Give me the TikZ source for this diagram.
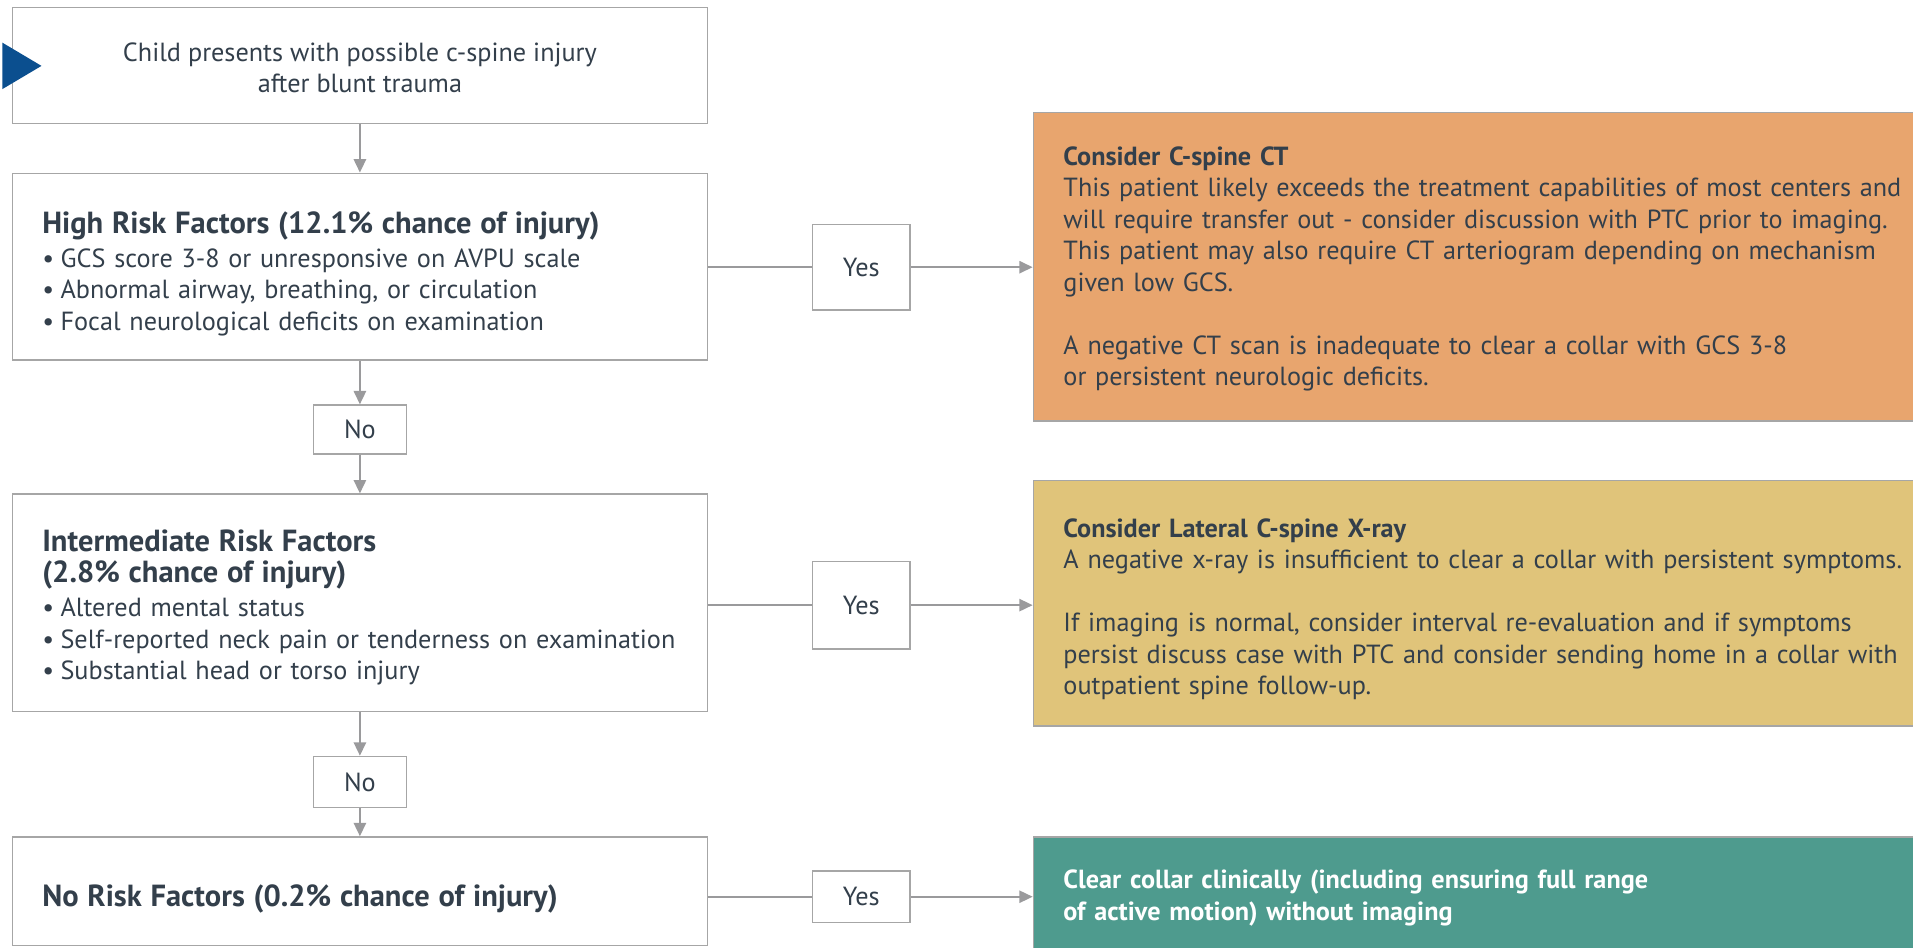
\documentclass[tikz,border=0pt]{standalone}
\usepackage{fontspec}
\setmainfont{PT Sans}
\usetikzlibrary{arrows.meta,calc}

\definecolor{ink}{HTML}{333F4B}
\definecolor{edgegray}{HTML}{A6A6A6}
\definecolor{wiregray}{HTML}{9A9A9C}
\definecolor{ctorange}{HTML}{E8A56E}
\definecolor{xrayyellow}{HTML}{E0C47A}
\definecolor{clearteal}{HTML}{4E9B8E}
\definecolor{startblue}{HTML}{0B4F8F}

\newcommand\bodyfont{\fontsize{21.5}{25.8}\selectfont}
\newcommand\headfont{\fontsize{25}{27}\selectfont\bfseries}
\newcommand\itm{\makebox[15pt][l]{\textbullet}}

\tikzset{
  box/.style={draw=edgegray, line width=1.1pt, fill=white, inner sep=0pt},
  riskbox/.style={box, minimum width=570pt},
  choice/.style={draw=edgegray, line width=1.1pt, fill=white, text=ink,
    minimum width=80pt, font=\bodyfont, inner sep=0pt},
  advice/.style={draw=edgegray, line width=1.1pt, inner sep=0pt,
    minimum width=770pt},
  words/.style={inner sep=0pt, text=ink, font=\bodyfont, anchor=west,
    text width=#1, align=left},
  words/.default=520pt,
  wire/.style={draw=wiregray, line width=1.8pt},
  flow/.style={wire, -{Triangle[length=11pt,width=10pt]}},
}

\begin{document}
\begin{tikzpicture}[x=1pt,y=-1pt]
\useasboundingbox (0,0) rectangle (1568,777);

% left column: entry and the three risk tiers
\node[box, minimum width=570pt, minimum height=95pt] (start) at (295,53.5) {};
\node[inner sep=0pt, text=ink, font=\bodyfont, align=center] (starttext)
  at ($(start.center)+(0,2)$)
  {Child presents with possible c-spine injury\\after blunt trauma};

\node[riskbox, minimum height=153pt] (high) at (295,218.5) {};
\node[words] (hightext) at ($(high.west)+(25,6)$)
  {{\headfont High Risk Factors (12.1\% chance of injury)}\\[2pt]
   \itm GCS score 3-8 or unresponsive on AVPU scale\\
   \itm Abnormal airway, breathing, or circulation\\
   \itm Focal neurological deficits on examination};

\node[riskbox, minimum height=178pt] (mid) at (295,494) {};
\node[words] (midtext) at ($(mid.west)+(25,4)$)
  {{\headfont Intermediate Risk Factors\\(2.8\% chance of injury)}\\[2pt]
   \itm Altered mental status\\
   \itm Self-reported neck pain or tenderness on examination\\
   \itm Substantial head or torso injury};

\node[riskbox, minimum height=89pt] (none) at (295,730.5) {};
\node[words] (nonetext) at ($(none.west)+(25,6)$)
  {{\headfont No Risk Factors (0.2\% chance of injury)}};

% "No" branches between the tiers
\node[choice, minimum width=76pt, minimum height=40pt] (no1) at (295,352) {No};
\node[choice, minimum width=76pt, minimum height=42pt] (no2) at (295,641) {No};

% "Yes" branches towards the recommendations
\node[choice, minimum height=70pt] (yes1) at (706,219) {Yes};
\node[choice, minimum height=72pt] (yes2) at (706,496) {Yes};
\node[choice, minimum height=42pt] (yes3) at (706,735) {Yes};

% recommendations, running off the right edge
\node[advice, fill=ctorange, minimum height=253pt] (ct) at (1232,218.5) {};
\node[words=720pt] (cttext) at ($(ct.west)+(25,2)$)
  {{\bfseries Consider C-spine CT}\\
   This patient likely exceeds the treatment capabilities of most centers and\\
   will require transfer out - consider discussion with PTC prior to imaging.\\
   This patient may also require CT arteriogram depending on mechanism\\
   given low GCS.\\[25.8pt]
   A negative CT scan is inadequate to clear a collar with GCS 3-8\\
   or persistent neurologic deficits.};

\node[advice, fill=xrayyellow, minimum height=201pt] (xray) at (1232,494.5) {};
\node[words=720pt] (xraytext) at ($(xray.west)+(25,5)$)
  {{\bfseries Consider Lateral C-spine X-ray}\\
   A negative x-ray is insufficient to clear a collar with persistent symptoms.\\[25.8pt]
   If imaging is normal, consider interval re-evaluation and if symptoms\\
   persist discuss case with PTC and consider sending home in a collar with\\
   outpatient spine follow-up.};

\node[advice, fill=clearteal, minimum height=92pt] (clear) at (1232,732) {};
\node[words=720pt, text=white] (cleartext) at ($(clear.west)+(25,4)$)
  {{\bfseries Clear collar clinically (including ensuring full range\\
   of active motion) without imaging}};

% entry marker
\fill[startblue] (2,35) -- (34,54) -- (2,73) -- cycle;

% connectors
\draw[flow] (start.south) -- (high.north);
\draw[flow] (high.south) -- (no1.north);
\draw[flow] (no1.south) -- (mid.north);
\draw[flow] (mid.south) -- (no2.north);
\draw[flow] (no2.south) -- (none.north);

\draw[wire] (high.east |- yes1.west) -- (yes1.west);
\draw[flow] (yes1.east) -- (ct.west |- yes1.east);
\draw[wire] (mid.east |- yes2.west) -- (yes2.west);
\draw[flow] (yes2.east) -- (xray.west |- yes2.east);
\draw[wire] (none.east |- yes3.west) -- (yes3.west);
\draw[flow] (yes3.east) -- (clear.west |- yes3.east);
\end{tikzpicture}
\end{document}
